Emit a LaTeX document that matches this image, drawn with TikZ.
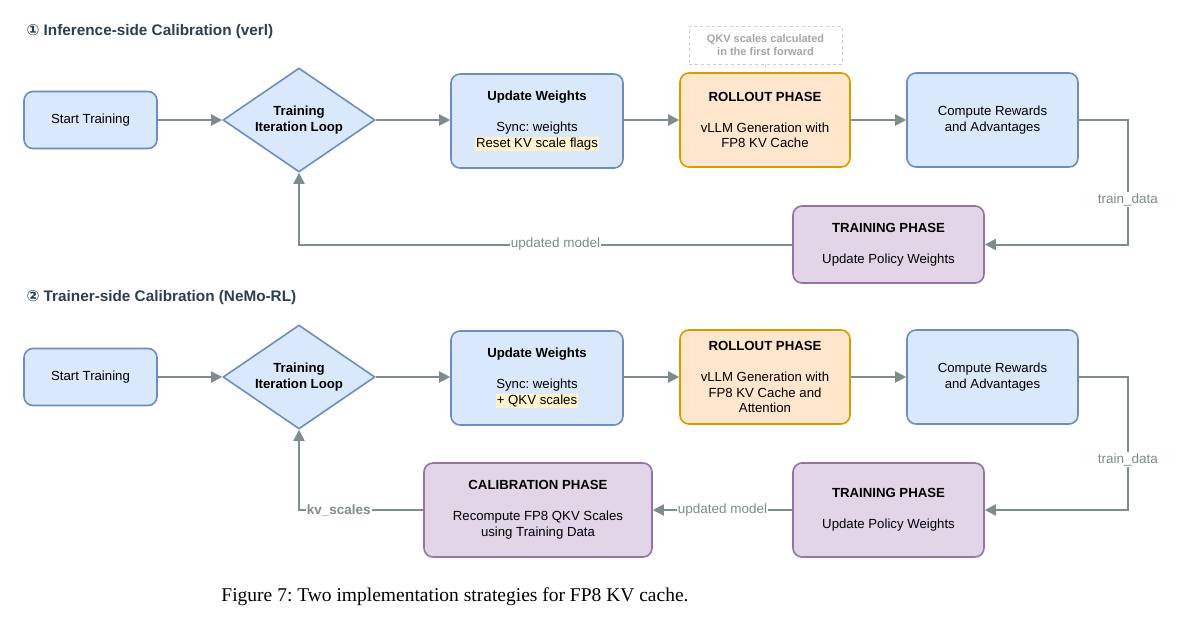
\documentclass[tikz,border=0pt]{standalone}
\usepackage{fontspec}
\setmainfont{Liberation Sans}
\newfontfamily\capfont{Liberation Serif}
\newfontfamily\symfont{DejaVu Sans}
\usetikzlibrary{arrows.meta,positioning,shapes.geometric}
\definecolor{bluefill}{HTML}{DAE8FC}
\definecolor{bluedraw}{HTML}{6C8EBF}
\definecolor{orangefill}{HTML}{FFE6CC}
\definecolor{orangedraw}{HTML}{D79B00}
\definecolor{purplefill}{HTML}{E1D5E7}
\definecolor{purpledraw}{HTML}{9673A6}
\definecolor{linkgrey}{HTML}{7F8C8D}
\definecolor{titlenavy}{HTML}{2C3E50}
\definecolor{hlyellow}{HTML}{FFF2CC}
\newcommand\hl[1]{{\setlength{\fboxsep}{0.8pt}\colorbox{hlyellow}{#1}}}
\frenchspacing

\begin{document}
\begin{tikzpicture}[x=1pt,y=-1pt,
 ttl/.style={anchor=west,text=titlenavy,font=\fontsize{15.3}{17}\selectfont\bfseries},
 box/.style={line width=1.6pt,rounded corners=9pt,align=center,inner sep=0pt,font=\fontsize{13.2}{15.5}\selectfont},
 bluebox/.style={box,draw=bluedraw,fill=bluefill},
 orangebox/.style={box,draw=orangedraw,fill=orangefill,minimum width=170pt,minimum height=94pt},
 purplebox/.style={box,draw=purpledraw,fill=purplefill},
 loopbox/.style={diamond,aspect=1.46,draw=bluedraw,fill=bluefill,line width=1.6pt,inner sep=0pt,minimum width=152pt,minimum height=104pt,align=center,font=\fontsize{13.2}{15.5}\selectfont\bfseries},
 notebox/.style={draw=gray!40,dashed,line width=0.8pt,fill=white,align=center,minimum width=153pt,minimum height=38pt,inner sep=0pt,text=gray!70,font=\fontsize{11}{13.5}\selectfont\bfseries},
 arr/.style={-{Triangle[length=11pt,width=11pt]},linkgrey,line width=2pt},
 lbl/.style={fill=white,inner sep=1pt,text=linkgrey,font=\fontsize{13.5}{15}\selectfont}]
\useasboundingbox (0,0) rectangle (1179,641);
% 1: inference-side calibration
\node[ttl] (ttl1) at (23,32) {{\symfont ①} Inference-side Calibration (verl)};
\node[bluebox,minimum width=133pt,minimum height=57pt] (start1) at (90.5,120) {Start Training};
\node[loopbox] (loop1) at (299,120) {Training\\Iteration Loop};
\node[bluebox,minimum width=172pt,minimum height=94pt] (upd1) at (537,121) {\textbf{Update Weights}\\[15.5pt]Sync: weights\\\hl{Reset KV scale flags}};
\node[orangebox] (roll1) at (765,120) {\textbf{ROLLOUT PHASE}\\[15.5pt]vLLM Generation with\\FP8 KV Cache};
\node[bluebox,minimum width=171pt,minimum height=94pt] (rew1) at (992.5,120) {Compute Rewards\\and Advantages};
\node[notebox] (note1) at (765.5,45) {QKV scales calculated\\in the first forward};
\node[purplebox,minimum width=191pt,minimum height=77pt] (train1) at (888.5,244.5) {\textbf{TRAINING PHASE}\\[15.5pt]Update Policy Weights};
\foreach \a/\b in {start1/loop1,loop1/upd1,upd1/roll1,roll1/rew1} {\draw[arr] (\a.east |- loop1) -- (\b.west |- loop1);}
\draw[gray!40,dashed,line width=0.8pt] (note1) -- (roll1);
\draw[arr] (rew1.east) -- ++(49,0) |- node[lbl,pos=0.32] {train\_data} (train1.east);
\draw[arr] (train1.west) -| node[lbl,pos=0.24] {updated model} (loop1.south);
% 2: trainer-side calibration
\node[ttl] (ttl2) at (23,298) {{\symfont ②} Trainer-side Calibration (NeMo-RL)};
\node[bluebox,minimum width=133pt,minimum height=57pt] (start2) at (90.5,377) {Start Training};
\node[loopbox] (loop2) at (299,377) {Training\\Iteration Loop};
\node[bluebox,minimum width=172pt,minimum height=94pt] (upd2) at (537,378) {\textbf{Update Weights}\\[15.5pt]Sync: weights\\\hl{+ QKV scales}};
\node[orangebox] (roll2) at (765,377) {\textbf{ROLLOUT PHASE}\\[15.5pt]vLLM Generation with\\FP8 KV Cache and\\Attention};
\node[bluebox,minimum width=171pt,minimum height=94pt] (rew2) at (992.5,377) {Compute Rewards\\and Advantages};
\node[purplebox,minimum width=191pt,minimum height=94pt] (train2) at (888.5,510) {\textbf{TRAINING PHASE}\\[15.5pt]Update Policy Weights};
\node[purplebox,minimum width=228pt,minimum height=94pt] (calib2) at (538,510) {\textbf{CALIBRATION PHASE}\\[15.5pt]Recompute FP8 QKV Scales\\using Training Data};
\foreach \a/\b in {start2/loop2,loop2/upd2,upd2/roll2,roll2/rew2} {\draw[arr] (\a.east |- loop2) -- (\b.west |- loop2);}
\draw[arr] (rew2.east) -- ++(49,0) |- node[lbl,pos=0.31] {train\_data} (train2.east);
\draw[arr] (train2) -- node[lbl] {updated model} (calib2);
\draw[arr] (calib2.west) -| node[lbl,pos=0.34,font=\fontsize{13.5}{15}\selectfont\bfseries] {kv\_scales} (loop2.south);
\node[font=\capfont\fontsize{19.5}{22}\selectfont] (caption) at (455,597) {Figure 7: Two implementation strategies for FP8 KV cache.};
\end{tikzpicture}
\end{document}
